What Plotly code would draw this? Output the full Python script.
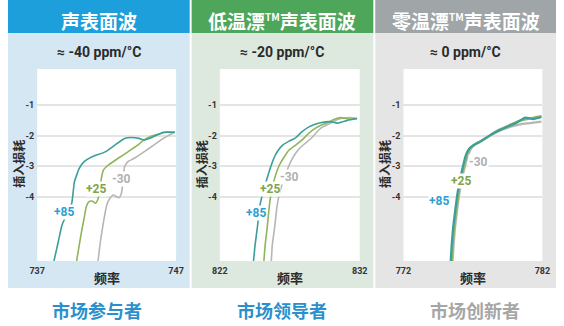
import plotly.graph_objects as go

W, H = 564, 326

# ---------------- data ----------------
TM = "<sup><span style='font-size:10px'>TM</span></sup>"
headers = ["声表面波", "低温漂" + TM + "声表面波", "零温漂" + TM + "声表面波"]
subtitles = ["≈ -40 ppm/°C", "≈ -20 ppm/°C", "≈ 0 ppm/°C"]
footers = ["市场参与者", "市场领导者", "市场创新者"]
x_ranges = [[737, 747], [822, 832], [772, 782]]
y_ticks = [-1, -2, -3, -4]
series_names = ["+85", "+25", "-30"]

# Panel 1 (737-747)
p1_x85 = [738.21, 738.52, 738.79, 739.49, 739.68, 740.03, 740.38, 740.96, 741.90, 742.59, 743.29, 743.76, 744.34, 744.69, 745.30, 746.09, 746.91]
p1_y85 = [-6.10, -5.47, -4.92, -4.21, -3.51, -3.07, -2.85, -2.69, -2.53, -2.31, -2.09, -2.06, -2.09, -2.14, -2.05, -1.89, -1.89]
p1_x25 = [739.84, 740.15, 740.38, 740.54, 740.73, 740.96, 741.20, 741.38, 741.48, 741.62, 741.78, 742.13, 742.83, 743.53, 744.23, 744.69, 745.16, 745.62, 746.32, 746.91]
p1_y25 = [-6.10, -5.25, -4.70, -4.32, -4.16, -4.14, -4.21, -4.07, -3.89, -3.40, -3.12, -2.96, -2.74, -2.53, -2.31, -2.14, -2.03, -1.96, -1.89, -1.89]
p1_x30 = [741.38,741.55,741.78,742.01,742.24,742.48,742.71,742.90,743.06,743.18,743.29,743.53,743.99,744.69,745.39,745.97,746.44,746.91]
p1_y30 = [-6.10, -5.47, -4.81, -4.27, -4.05, -3.94, -4.00, -4.03, -3.89, -3.51, -3.02, -2.85, -2.74, -2.53, -2.31, -2.12, -2.00, -1.89]

# Panel 2 (822-832)
p2_x85 = [824.41, 824.52, 824.69, 824.87, 825.10, 825.29, 825.45, 825.68, 825.91, 826.14, 826.49, 826.95, 827.42, 827.88, 828.34, 828.81, 829.27, 829.85, 830.43, 831.12, 831.81]
p2_y85 = [-6.10, -5.58, -4.98, -4.27, -3.83, -3.53, -3.29, -2.96, -2.69, -2.50, -2.31, -2.18, -2.07, -1.87, -1.72, -1.63, -1.57, -1.54, -1.59, -1.50, -1.44]
p2_x25 = [825.15,825.24,825.38,825.52,825.68,825.84,826.03,826.26,826.61,826.95,827.42,827.88,828.34,828.81,829.27,829.73,830.19,830.66,831.35,831.81]
p2_y25 = [-6.10, -5.58, -5.03, -4.38, -3.83, -3.53, -3.23, -2.96, -2.69, -2.47, -2.31, -2.14, -1.93, -1.76, -1.65, -1.57, -1.46, -1.41, -1.46, -1.44]
p2_x30 = [825.68,825.75,825.91,826.07,826.26,826.49,826.77,827.07,827.37,827.69,828.11,828.57,828.92,829.27,829.73,830.19,830.66,831.35,831.81]
p2_y30 = [-6.10, -5.58, -5.03, -4.38, -3.89, -3.53, -3.18, -2.85, -2.61, -2.42, -2.25, -2.07, -1.89, -1.74, -1.63, -1.52, -1.44, -1.41, -1.44]

# Panel 3 (772-782)
p3_x85 = [775.40, 775.47, 775.57, 775.71, 775.87, 776.03, 776.22, 776.45, 776.69, 777.03, 777.50, 778.08, 778.78, 779.48, 780.18, 780.76, 781.35, 781.93]
p3_y85 = [-6.10, -5.58, -5.03, -4.49, -3.94, -3.51, -3.12, -2.69, -2.45, -2.31, -2.20, -2.03, -1.85, -1.71, -1.57, -1.41, -1.46, -1.39]
p3_x25 = [775.47,775.54,775.64,775.78,775.94,776.10,776.29,776.52,776.78,777.15,777.62,778.20,778.90,779.60,780.30,780.88,781.46,781.93]
p3_y25 = [-6.10, -5.58, -5.03, -4.49, -3.94, -3.51, -3.12, -2.69, -2.42, -2.29, -2.18, -2.00, -1.80, -1.66, -1.52, -1.46, -1.40, -1.36]
p3_x30 = [775.54,775.61,775.71,775.85,776.01,776.17,776.36,776.62,776.92,777.27,777.73,778.32,779.02,779.72,780.41,781.11,781.93]
p3_y30 = [-6.10, -5.58, -5.03, -4.49, -3.94, -3.51, -3.12, -2.69, -2.39, -2.25, -2.14, -1.98, -1.82, -1.71, -1.63, -1.59, -1.54]

# label positions (data coords) per panel: +85, +25, -30
label_pos = [
    [(738.91, -4.51), (741.24, -3.75), (743.06, -3.42)],
    [(824.59, -4.54), (825.56, -3.75), (827.00, -3.34)],
    [(774.59, -4.15), (776.13, -3.49), (777.43, -2.85)],
]

panel_series = [
    [(p1_x85, p1_y85), (p1_x25, p1_y25), (p1_x30, p1_y30)],
    [(p2_x85, p2_y85), (p2_x25, p2_y25), (p2_x30, p2_y30)],
    [(p3_x85, p3_y85), (p3_x25, p3_y25), (p3_x30, p3_y30)],
]

# ---------------- styles ----------------
line_colors = ["#3a9f98", "#8fb55c", "#b6b6b6"]
label_colors = ["#2f9fd2", "#7ea548", "#b0b0b0"]
header_colors = ["#1d9fdb", "#4ea65a", "#a0a5a8"]
panel_bgs = ["#d4e7f2", "#dde9de", "#e5e5e5"]
footer_colors = ["#2a90cc", "#2a90cc", "#a6a6a6"]

panel_px = [(0, 187), (189, 376), (378, 564)]
plot_px = [(30, 173), (218, 362), (407, 550)]
plot_top, plot_bot = 69, 261
header_bot = 33
panel_bot = 288
ytitle_px = [10, 199, 387]
footer_px = [92, 282, 481]

CJK = "Noto Sans CJK SC"
NUM = "Roboto"


def fx(px):
    return px / W


def fy(py):
    return 1 - py / H


fig = go.Figure()
shapes = []
annotations = []
layout_axes = {}

for i in range(3):
    xa = "x" if i == 0 else f"x{i+1}"
    ya = "y" if i == 0 else f"y{i+1}"
    xname = "xaxis" if i == 0 else f"xaxis{i+1}"
    yname = "yaxis" if i == 0 else f"yaxis{i+1}"

    # backgrounds
    p0, p1 = panel_px[i]
    shapes.append(dict(type="rect", xref="paper", yref="paper", layer="below",
                       x0=fx(p0), x1=fx(p1), y0=fy(panel_bot), y1=fy(header_bot),
                       fillcolor=panel_bgs[i], line=dict(width=0)))
    shapes.append(dict(type="rect", xref="paper", yref="paper", layer="below",
                       x0=fx(p0), x1=fx(p1), y0=fy(header_bot), y1=1,
                       fillcolor=header_colors[i], line=dict(width=0)))
    a0, a1 = plot_px[i]
    shapes.append(dict(type="rect", xref="paper", yref="paper", layer="below",
                       x0=fx(a0), x1=fx(a1), y0=fy(plot_bot), y1=fy(plot_top),
                       fillcolor="white", line=dict(width=0)))

    # traces (draw -30 first, +85 last)
    for k in [2, 1, 0]:
        xs, ys = panel_series[i][k]
        fig.add_trace(go.Scatter(x=xs, y=ys, mode="lines", xaxis=xa, yaxis=ya,
                                 line=dict(color=line_colors[k], width=1.6 if i < 2 else 2.2, shape="spline", smoothing=0.4),
                                 showlegend=False, hoverinfo="skip", name=series_names[k]))

    layout_axes[xname] = dict(domain=[fx(a0), fx(a1)], range=x_ranges[i], anchor=ya,
                              tickvals=x_ranges[i], ticktext=[str(v) for v in x_ranges[i]],
                              showgrid=False, zeroline=False, showline=False, ticks="",
                              tickfont=dict(family=NUM, size=9, color="#333333", weight="bold"),
                              ticklabelstandoff=3, fixedrange=True)
    layout_axes[yname] = dict(domain=[fy(plot_bot), fy(plot_top)], range=[-6.1, 0.18], anchor=xa,
                              tickvals=y_ticks, ticktext=[str(v) for v in y_ticks],
                              showgrid=True, gridcolor="#e4e4e4", gridwidth=1.5,
                              zeroline=False, showline=False, ticks="",
                              tickfont=dict(family=NUM, size=9, color="#333333", weight="bold"),
                              ticklabelstandoff=2, fixedrange=True)

    pc = (p0 + p1) / 2
    # header title
    annotations.append(dict(text=headers[i], xref="paper", yref="paper", x=fx(pc), y=fy(21),
                            xanchor="center", yanchor="middle", showarrow=False,
                            font=dict(family=CJK, size=19, color="white", weight="bold")))
    # subtitle
    annotations.append(dict(text=subtitles[i], xref="paper", yref="paper", x=fx(pc), y=fy(52),
                            xanchor="center", yanchor="middle", showarrow=False,
                            font=dict(family=NUM, size=14, color="#2b2b2b", weight="bold")))
    # y title
    annotations.append(dict(text="插入损耗", xref="paper", yref="paper", x=fx(ytitle_px[i]), y=fy(164),
                            xanchor="center", yanchor="middle", showarrow=False, textangle=-90,
                            font=dict(family=CJK, size=12, color="#2b2b2b", weight="bold")))
    # x title
    annotations.append(dict(text="频率", xref="paper", yref="paper", x=fx((a0 + a1) / 2), y=fy(277),
                            xanchor="center", yanchor="middle", showarrow=False,
                            font=dict(family=CJK, size=13, color="#2b2b2b", weight="bold")))
    # footer
    annotations.append(dict(text=footers[i], xref="paper", yref="paper", x=fx(footer_px[i]), y=fy(310),
                            xanchor="center", yanchor="middle", showarrow=False,
                            font=dict(family=CJK, size=18, color=footer_colors[i], weight="bold")))
    # series labels
    for k in range(3):
        lx, ly = label_pos[i][k]
        annotations.append(dict(text=series_names[k], xref=xa, yref=ya, x=lx, y=ly,
                                xanchor="center", yanchor="middle", showarrow=False,
                                bgcolor="white", borderpad=0,
                                font=dict(family=NUM, size=12, color=label_colors[k], weight="bold")))

fig.update_layout(width=W, height=H, autosize=False,
                  margin=dict(l=0, r=0, t=0, b=0),
                  paper_bgcolor="white", plot_bgcolor="rgba(0,0,0,0)",
                  shapes=shapes, annotations=annotations, **layout_axes)

fig.write_html("out.html", config={"displayModeBar": False})
